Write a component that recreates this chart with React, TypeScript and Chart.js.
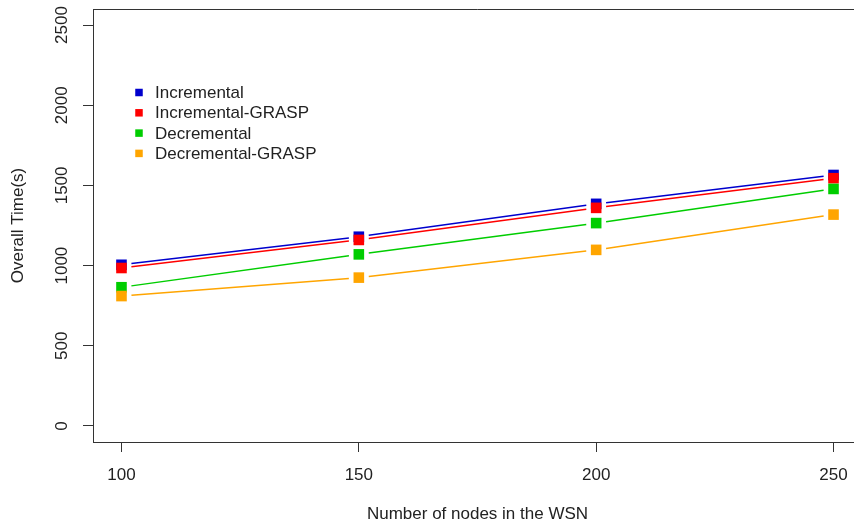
import React, { useEffect, useRef } from "react";
import { Chart, registerables } from "chart.js";

Chart.register(...registerables);

// ---- data ----
const nodes = [100, 150, 200, 250];
const seriesNames = ["Incremental", "Incremental-GRASP", "Decremental", "Decremental-GRASP"];
const incremental = [1005, 1180, 1385, 1565];
const incrementalGrasp = [985, 1160, 1360, 1545];
const decremental = [865, 1070, 1265, 1478];
const decrementalGrasp = [810, 925, 1098, 1318];
const seriesColors = ["#0000CD", "#FF0000", "#00CD00", "#FFA500"];
const xTicks = [100, 150, 200, 250];
const yTicks = [0, 500, 1000, 1500, 2000, 2500];
const xTitle = "Number of nodes in the WSN";
const yTitle = "Overall Time(s)";

const FONT = '"Liberation Sans", Arial, Helvetica, sans-serif';
const AXIS_COLOR = "#333333";
const TEXT_COLOR = "#222222";

const gapLinesPlugin = {
  id: "gapLines",
  beforeDatasetsDraw(chart: any) {
    const ctx = chart.ctx;
    const gap = 10;
    ctx.save();
    chart.data.datasets.forEach((ds: any, i: number) => {
      const meta = chart.getDatasetMeta(i);
      const pts = meta.data;
      ctx.strokeStyle = ds.borderColor;
      ctx.lineWidth = 1.5;
      for (let k = 0; k < pts.length - 1; k++) {
        const p0 = pts[k];
        const p1 = pts[k + 1];
        const dx = p1.x - p0.x;
        const dy = p1.y - p0.y;
        const len = Math.hypot(dx, dy);
        if (len <= 2 * gap) continue;
        const ux = dx / len;
        const uy = dy / len;
        ctx.beginPath();
        ctx.moveTo(p0.x + ux * gap, p0.y + uy * gap);
        ctx.lineTo(p1.x - ux * gap, p1.y - uy * gap);
        ctx.stroke();
      }
    });
    ctx.restore();
  },
};

const decorPlugin = {
  id: "decor",
  afterDraw(chart: any) {
    const ctx = chart.ctx;
    const { left, right, top, bottom } = chart.chartArea;
    ctx.save();
    // plot box (top and right edges; left/bottom are the axis borders)
    ctx.strokeStyle = AXIS_COLOR;
    ctx.lineWidth = 1;
    ctx.beginPath();
    ctx.moveTo(Math.round(left), Math.round(top) + 0.5);
    ctx.lineTo(Math.round(right) + 0.5, Math.round(top) + 0.5);
    ctx.lineTo(Math.round(right) + 0.5, Math.round(bottom));
    ctx.stroke();

    // rotated y tick labels
    const ys = chart.scales.y;
    ctx.fillStyle = TEXT_COLOR;
    ctx.font = `17px ${FONT}`;
    ctx.textAlign = "center";
    ctx.textBaseline = "middle";
    yTicks.forEach((v) => {
      const py = ys.getPixelForValue(v);
      ctx.save();
      ctx.translate(left - 30.5, py);
      ctx.rotate(-Math.PI / 2);
      ctx.fillText(String(v), 0, 0);
      ctx.restore();
    });

    // legend
    const lx = left + 46;
    const ly0 = top + 83.5;
    const rowH = 20.3;
    const sq = 7.5;
    ctx.textAlign = "left";
    seriesNames.forEach((name, i) => {
      const cy = ly0 + i * rowH;
      ctx.fillStyle = seriesColors[i];
      ctx.fillRect(lx - sq / 2, cy - sq / 2, sq, sq);
      ctx.fillStyle = TEXT_COLOR;
      ctx.fillText(name, lx + 16, cy + 1);
    });
    ctx.restore();
  },
};

export default function App() {
  const ref = useRef<HTMLCanvasElement | null>(null);

  useEffect(() => {
    document.body.style.margin = "0";
    const canvas = ref.current;
    if (!canvas) return;
    const allSeries = [incremental, incrementalGrasp, decremental, decrementalGrasp];
    const chart = new Chart(canvas, {
      type: "line",
      data: {
        datasets: allSeries.map((vals, i) => ({
          label: seriesNames[i],
          data: nodes.map((x, k) => ({ x, y: vals[k] })),
          borderColor: seriesColors[i],
          backgroundColor: seriesColors[i],
          showLine: false,
          pointStyle: "rect",
          pointRadius: 7.5,
          pointBorderWidth: 0,
          pointBackgroundColor: seriesColors[i],
          order: allSeries.length - 1 - i,
        })),
      },
      options: {
        animation: false,
        responsive: false,
        devicePixelRatio: 1,
        layout: { autoPadding: false, padding: { top: 9, right: 0, left: 0, bottom: 0 } },
        plugins: {
          legend: { display: false },
          tooltip: { enabled: false },
        },
        scales: {
          x: {
            type: "linear",
            min: 94,
            max: 256,
            afterBuildTicks: (scale: any) => {
              scale.ticks = xTicks.map((v) => ({ value: v }));
            },
            afterFit: (scale: any) => {
              scale.height = 86;
            },
            grid: {
              display: true,
              drawOnChartArea: false,
              drawTicks: true,
              tickLength: 10,
              color: AXIS_COLOR,
              lineWidth: 1,
            },
            border: { display: true, color: AXIS_COLOR, width: 1 },
            ticks: {
              autoSkip: false,
              maxRotation: 0,
              minRotation: 0,
              padding: 13,
              color: TEXT_COLOR,
              font: { family: FONT, size: 17 },
              callback: (v: any) => String(v),
            },
            title: {
              display: true,
              text: xTitle,
              color: TEXT_COLOR,
              font: { family: FONT, size: 17 },
              padding: { top: 0, bottom: 3 },
            },
          },
          y: {
            type: "linear",
            min: -100,
            max: 2600,
            afterBuildTicks: (scale: any) => {
              scale.ticks = yTicks.map((v) => ({ value: v }));
            },
            afterFit: (scale: any) => {
              scale.width = 93;
            },
            grid: {
              display: true,
              drawOnChartArea: false,
              drawTicks: true,
              tickLength: 10,
              color: AXIS_COLOR,
              lineWidth: 1,
            },
            border: { display: true, color: AXIS_COLOR, width: 1 },
            ticks: { display: false },
            title: {
              display: true,
              text: yTitle,
              color: TEXT_COLOR,
              font: { family: FONT, size: 17 },
              padding: { top: 8, bottom: 0 },
            },
          },
        },
      },
      plugins: [gapLinesPlugin, decorPlugin],
    } as any);
    return () => chart.destroy();
  }, []);

  return (
    <div style={{ width: 854, height: 528, overflow: "hidden", background: "#ffffff" }}>
      <div style={{ width: 862, height: 528 }}>
        <canvas ref={ref} width={862} height={528} style={{ display: "block" }} />
      </div>
    </div>
  );
}
